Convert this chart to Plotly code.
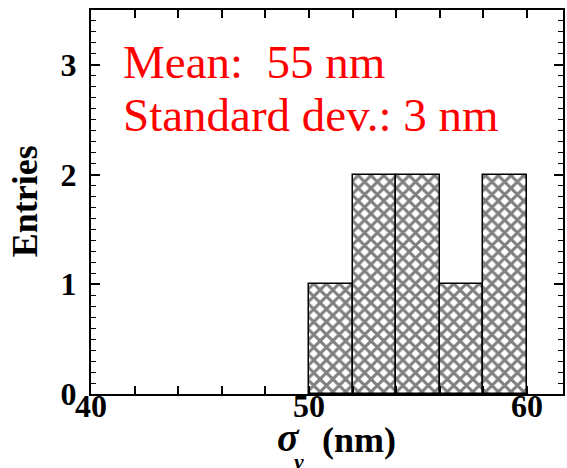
import plotly.graph_objects as go

# Data
bin_centers = [51, 53, 55, 57, 59]
bin_width = 2
entries = [1, 2, 2, 1, 2]
mean_text = "Mean:&nbsp; 55 nm"
std_text = "Standard dev.: 3 nm"
x_ticks = [40, 50, 60]
y_ticks = [0, 1, 2, 3]

W, H = 567, 468
L, R, T, B = 91, 2, 10, 74
pw, ph = W - L - R, H - T - B


def px(x):
    return (x - L) / pw


def py(y):
    return (H - B - y) / ph


fig = go.Figure()
fig.add_trace(go.Bar(
    x=bin_centers, y=entries, width=[bin_width] * len(bin_centers),
    marker=dict(color="white", line=dict(color="black", width=1.5),
                pattern=dict(shape="x", size=9, solidity=0.55,
                             fgcolor="black", bgcolor="white")),
    showlegend=False,
))

tickfont = dict(family="Liberation Serif", size=32, color="black", weight="bold")

fig.update_layout(
    width=W, height=H,
    margin=dict(l=L, r=R, t=T, b=B, pad=0),
    paper_bgcolor="white", plot_bgcolor="white",
    bargap=0,
    xaxis=dict(range=[40, 61.65], tickvals=x_ticks, ticks="inside", ticklen=8,
               tickwidth=1.5, tickcolor="black", showline=True, linewidth=2,
               linecolor="black", mirror="ticks", showgrid=False, zeroline=False,
               tickfont=tickfont, ticklabelstandoff=-17,
               minor=dict(dtick=2, tick0=40, ticks="inside", ticklen=8,
                          tickwidth=1.5, tickcolor="black", showgrid=False)),
    yaxis=dict(range=[0, 3.5], tickvals=y_ticks, ticks="inside", ticklen=9,
               tickwidth=1.5, tickcolor="black", showline=True, linewidth=2,
               linecolor="black", mirror="ticks", showgrid=False, zeroline=False,
               tickfont=tickfont, ticklabelstandoff=6,
               minor=dict(dtick=0.1, tick0=0, ticks="inside", ticklen=5,
                          tickwidth=1.2, tickcolor="black", showgrid=False)),
)

red = dict(family="Liberation Serif", size=47, color="red")
fig.add_annotation(x=px(121), y=py(62), xref="paper", yref="paper",
                   text=mean_text, showarrow=False, xanchor="left",
                   yanchor="middle", font=red)
fig.add_annotation(x=px(121), y=py(115), xref="paper", yref="paper",
                   text=std_text, showarrow=False, xanchor="left",
                   yanchor="middle", font=red)

# Axis titles
fig.add_annotation(x=px(25), y=py(201), xref="paper", yref="paper",
                   text="<b>Entries</b>", textangle=-90, showarrow=False,
                   xanchor="center", yanchor="middle",
                   font=dict(family="Liberation Serif", size=36, color="black"))
fig.add_annotation(x=px(289), y=py(437), xref="paper", yref="paper",
                   text="<b><i>σ</i></b>", showarrow=False,
                   xanchor="center", yanchor="middle",
                   font=dict(family="Liberation Serif", size=40, color="black"))
fig.add_annotation(x=px(298), y=py(461), xref="paper", yref="paper",
                   text="<b><i>y</i></b>", showarrow=False,
                   xanchor="center", yanchor="middle",
                   font=dict(family="Liberation Serif", size=22, color="black"))
fig.add_annotation(x=px(321), y=py(440), xref="paper", yref="paper",
                   text="<b>(nm)</b>", showarrow=False,
                   xanchor="left", yanchor="middle",
                   font=dict(family="Liberation Serif", size=36, color="black"))

fig.write_html("out.html")
